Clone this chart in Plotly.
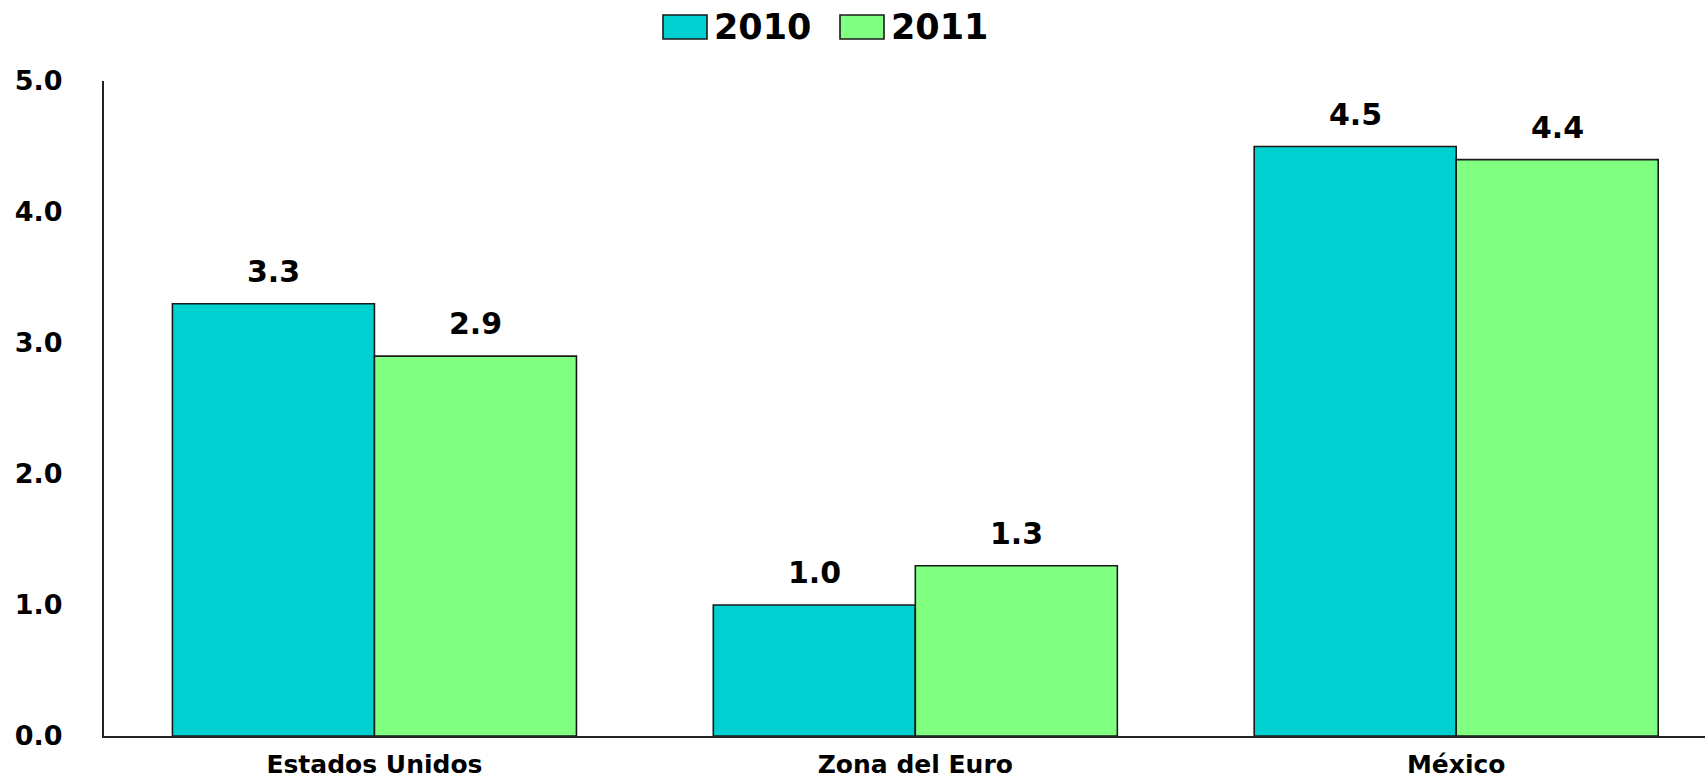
import plotly.graph_objects as go

# Data
regions = ["Estados Unidos", "Zona del Euro", "México"]
years = ["2010", "2011"]
growth_2010 = [3.3, 1.0, 4.5]
growth_2011 = [2.9, 1.3, 4.4]
y_ticks = [0, 1, 2, 3, 4, 5]

colors = ["#00D0D0", "#80FF80"]
series = [growth_2010, growth_2011]

W, H = 1705, 780
M_L, M_R, M_T, M_B = 104, 0, 81, 44
plot_w = W - M_L - M_R
plot_h = H - M_T - M_B

FONT = "DejaVu Sans"

fig = go.Figure()
for name, vals, col in zip(years, series, colors):
    fig.add_trace(go.Bar(
        x=regions, y=vals, name=name,
        marker=dict(color=col, line=dict(color="#1a1a1a", width=1.6)),
        showlegend=False,
    ))

# Value labels above each bar
bargap = 0.253
bar_w = (1 - bargap) / 2
annotations = []
for k, vals in enumerate(series):
    offset = (k - 0.5) * bar_w
    for i, v in enumerate(vals):
        annotations.append(dict(
            x=i + offset, y=v, xref="x", yref="y",
            text=f"{v:.1f}", showarrow=False,
            yanchor="bottom", yshift=13,
            font=dict(family=FONT, size=30, color="black", weight="bold"),
        ))

# Legend drawn as boxes + labels above the plot
def px_x(px):
    return (px - M_L) / plot_w

def px_y(py):
    return (H - M_B - py) / plot_h

shapes = []
legend_boxes = [(663, 707), (840, 884)]
for (x0, x1), name, col in zip(legend_boxes, years, colors):
    shapes.append(dict(
        type="rect", xref="paper", yref="paper",
        x0=px_x(x0), x1=px_x(x1), y0=px_y(39), y1=px_y(15),
        fillcolor=col, line=dict(color="#1a1a1a", width=1.6),
    ))
    annotations.append(dict(
        x=px_x(x1 + 5), y=px_y(27), xref="paper", yref="paper",
        text=name, showarrow=False, xanchor="left", yanchor="middle",
        font=dict(family=FONT, size=35, color="black", weight="bold"),
    ))

fig.update_layout(
    width=W, height=H,
    margin=dict(l=M_L, r=M_R, t=M_T, b=M_B, pad=0),
    paper_bgcolor="white", plot_bgcolor="white",
    barmode="group", bargap=bargap, bargroupgap=0,
    annotations=annotations, shapes=shapes,
    showlegend=False,
)
fig.update_xaxes(
    range=[-0.5, 2.46], automargin=False,
    showline=True, linecolor="#222222", linewidth=2,
    ticks="", showgrid=False, zeroline=False,
    ticklabelstandoff=5,
    tickfont=dict(family=FONT, size=25, color="black", weight="bold"),
)
fig.update_yaxes(
    range=[0, 5], tickvals=y_ticks, tickformat=".1f", automargin=False,
    showline=True, linecolor="#222222", linewidth=2,
    ticks="", showgrid=False, zeroline=False,
    ticklabelstandoff=34,
    tickfont=dict(family=FONT, size=27, color="black", weight="bold"),
)

fig.write_html("out.html")
